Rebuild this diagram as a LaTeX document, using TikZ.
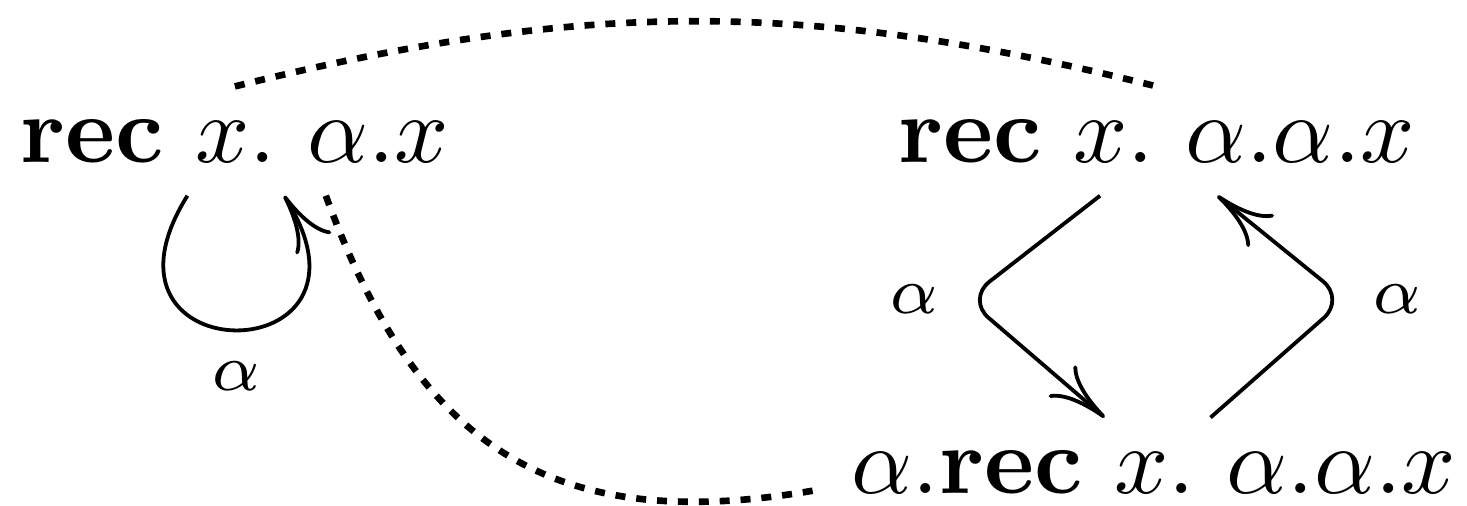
\documentclass[tikz,border=0pt]{standalone}
\usetikzlibrary{arrows.meta}
\begin{document}
\begin{tikzpicture}
  \tikzstyle{termStyle}=[inner sep=3.33pt]
  \tikzstyle{stepStyle}=[thin,-{To[length=6pt,width=4.4pt]}]
  \tikzstyle{relStyle}=[line width=0.7pt,dash pattern=on 1.05pt off 1.15pt]
  \tikzstyle{labelStyle}=[font=\scriptsize,inner sep=2.7pt]

  \useasboundingbox (-0.869,-1.350) rectangle (4.558,0.522);

  \node[termStyle](single) at (0,0) {$\mathbf{rec}\ x.\ \alpha.x$};
  \node[termStyle](double) at (3.41,0) {$\mathbf{rec}\ x.\ \alpha.\alpha.x$};
  \node[termStyle](unfold) at (3.40,-1.225) {$\alpha.\mathbf{rec}\ x.\ \alpha.\alpha.x$};

  % self loop
  \draw[stepStyle] (single.-131) to[out=-122,in=-58,looseness=5.6] node[below,labelStyle,inner sep=3.2pt] {$\alpha$} (single.-48);

  % unfolding steps
  \coordinate (lcorner) at (2.708,-0.585);
  \coordinate (rcorner) at (4.107,-0.585);
  \draw[stepStyle,rounded corners=3pt] (double.-136) -- (lcorner) node[left,labelStyle] {$\alpha$} -- (unfold.132);
  \draw[stepStyle,rounded corners=3pt] (unfold.44) -- (rcorner) node[right,labelStyle] {$\alpha$} -- (double.-42);

  % bisimilar terms
  \draw[relStyle] (single.north) to[bend left=14] (double.north);
  \draw[relStyle] (single.-31) to[out=-70,in=-170,looseness=1.2] (unfold.183);
\end{tikzpicture}
\end{document}
